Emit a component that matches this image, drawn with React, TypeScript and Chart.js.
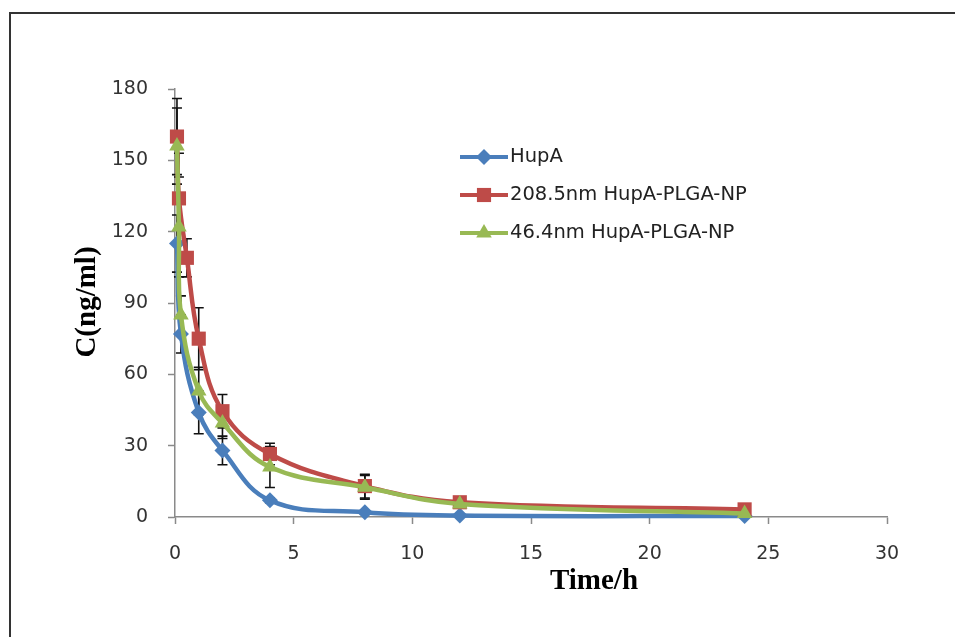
import React, { useEffect, useRef } from "react";
import { Chart, registerables } from "chart.js";

Chart.register(...registerables);

// ---- data ----
const xTickValues = [0, 5, 10, 15, 20, 25, 30];
const yTickValues = [0, 30, 60, 90, 120, 150, 180];
const xTitle = "Time/h";
const yTitle = "C(ng/ml)";

const seriesLabels = ["HupA", "208.5nm HupA-PLGA-NP", "46.4nm HupA-PLGA-NP"];

const hupaTime = [0.083, 0.25, 1, 2, 4, 8, 12, 24];
const hupaConc = [115, 77, 44, 28, 7, 2, 0.6, 0.4];
const hupaSD = [12, 8, 9, 6, 1, 0.5, 0.3, 0.2];

const np208Time = [0.083, 0.167, 0.5, 1, 2, 4, 8, 12, 24];
const np208Conc = [160, 134, 109, 75, 44.5, 26.5, 13, 6.2, 3.2];
const np208SD = [16, 19, 8, 13, 7, 4.5, 5, 1, 0.5];

const np46Time = [0.083, 0.167, 0.25, 1, 2, 4, 8, 12, 24];
const np46Conc = [156, 122, 85, 53, 39.5, 21, 12.5, 5.5, 1.5];
const np46SD = [16, 21, 8, 10, 6.5, 8.6, 5, 1, 0.5];

const colors = ["#4A7EBB", "#BE4B48", "#98B954"];
const pointStyles = ["rectRot", "rect", "triangle"];
const pointRadii = [8, 10, 9];

const sdLists = [hupaSD, np208SD, np46SD];

function toPoints(xs: number[], ys: number[]) {
  return xs.map((x, i) => ({ x, y: ys[i] }));
}

function drawMarker(ctx: CanvasRenderingContext2D, style: string, x: number, y: number, r: number) {
  ctx.beginPath();
  if (style === "rectRot") {
    ctx.moveTo(x, y - r);
    ctx.lineTo(x + r, y);
    ctx.lineTo(x, y + r);
    ctx.lineTo(x - r, y);
  } else if (style === "rect") {
    const s = r * Math.SQRT1_2;
    ctx.rect(x - s, y - s, 2 * s, 2 * s);
  } else {
    const a = (2 * Math.PI) / 3;
    ctx.moveTo(x, y - r);
    ctx.lineTo(x + Math.sin(a) * r, y - Math.cos(a) * r);
    ctx.lineTo(x + Math.sin(2 * a) * r, y - Math.cos(2 * a) * r);
  }
  ctx.closePath();
  ctx.fill();
}

const errorBarPlugin = {
  id: "errorBars",
  beforeDatasetsDraw(chart: any) {
    const { ctx, scales } = chart;
    const xs = scales.x;
    const ys = scales.y;
    ctx.save();
    ctx.strokeStyle = "#111";
    ctx.lineWidth = 1.6;
    chart.data.datasets.forEach((ds: any, i: number) => {
      const sd = sdLists[i];
      ds.data.forEach((p: any, j: number) => {
        const e = sd[j];
        if (!e) return;
        const px = xs.getPixelForValue(p.x);
        const top = ys.getPixelForValue(p.y + e);
        const bot = ys.getPixelForValue(Math.max(0, p.y - e));
        ctx.beginPath();
        ctx.moveTo(px, top);
        ctx.lineTo(px, bot);
        ctx.moveTo(px - 5, top);
        ctx.lineTo(px + 5, top);
        ctx.moveTo(px - 5, bot);
        ctx.lineTo(px + 5, bot);
        ctx.stroke();
      });
    });
    ctx.restore();
  },
};

const overlayPlugin = {
  id: "overlay",
  afterDraw(chart: any) {
    const { ctx } = chart;
    ctx.save();
    // axis titles
    ctx.fillStyle = "#000";
    ctx.font = "bold 29px 'Liberation Serif', 'Times New Roman', serif";
    ctx.textAlign = "center";
    ctx.textBaseline = "middle";
    ctx.fillText(xTitle, 594, 582);
    ctx.translate(88, 302);
    ctx.rotate(-Math.PI / 2);
    ctx.fillText(yTitle, 0, 0);
    ctx.restore();

    // legend
    ctx.save();
    const legendYs = [157, 195, 233];
    seriesLabels.forEach((label, i) => {
      const y = legendYs[i];
      ctx.strokeStyle = colors[i];
      ctx.lineWidth = 4;
      ctx.beginPath();
      ctx.moveTo(460, y);
      ctx.lineTo(508, y);
      ctx.stroke();
      ctx.fillStyle = colors[i];
      drawMarker(ctx, pointStyles[i], 484, y, pointRadii[i]);
      ctx.fillStyle = "#222";
      ctx.font = "19.5px 'DejaVu Sans', Verdana, sans-serif";
      ctx.textAlign = "left";
      ctx.textBaseline = "middle";
      ctx.fillText(label, 510, y);
    });
    ctx.restore();
  },
};

export default function App() {
  const canvasRef = useRef<HTMLCanvasElement | null>(null);

  useEffect(() => {
    const canvas = canvasRef.current;
    if (!canvas) return;
    const series = [
      { t: hupaTime, c: hupaConc },
      { t: np208Time, c: np208Conc },
      { t: np46Time, c: np46Conc },
    ];
    const chart = new Chart(canvas, {
      type: "line",
      data: {
        datasets: series.map((s, i) => ({
          label: seriesLabels[i],
          data: toPoints(s.t, s.c),
          borderColor: colors[i],
          backgroundColor: colors[i],
          pointBackgroundColor: colors[i],
          pointBorderColor: colors[i],
          pointStyle: pointStyles[i] as any,
          pointRadius: pointRadii[i],
          pointBorderWidth: 0,
          borderWidth: 4.5,
          tension: 0.4,
          clip: false as any,
          order: 2 - i,
        })),
      },
      options: {
        responsive: false,
        animation: false,
        devicePixelRatio: 1,
        layout: { padding: { top: 89, right: 68, left: 0, bottom: 0 } },
        plugins: {
          legend: { display: false },
          tooltip: { enabled: false },
        },
        scales: {
          x: {
            type: "linear",
            min: 0,
            max: 30,
            afterFit: (s: any) => {
              s.height = 120;
            },
            afterBuildTicks: (s: any) => {
              s.ticks = xTickValues.map((v) => ({ value: v }));
            },
            grid: {
              drawOnChartArea: false,
              drawTicks: true,
              tickLength: 7,
              tickColor: "#8a8a8a",
              tickWidth: 1.5,
            },
            border: { display: true, color: "#8a8a8a", width: 1.5 },
            ticks: {
              padding: 19,
              color: "#333",
              font: { family: "'DejaVu Sans', Verdana, sans-serif", size: 19 },
            },
          },
          y: {
            type: "linear",
            min: 0,
            max: 180,
            afterFit: (s: any) => {
              s.width = 175;
            },
            afterBuildTicks: (s: any) => {
              s.ticks = yTickValues.map((v) => ({ value: v }));
            },
            grid: {
              drawOnChartArea: false,
              drawTicks: true,
              tickLength: 7,
              tickColor: "#8a8a8a",
              tickWidth: 1.5,
            },
            border: { display: true, color: "#8a8a8a", width: 1.5 },
            ticks: {
              padding: 20,
              color: "#333",
              font: { family: "'DejaVu Sans', Verdana, sans-serif", size: 19 },
            },
          },
        },
      },
      plugins: [errorBarPlugin, overlayPlugin],
    });
    return () => chart.destroy();
  }, []);

  return (
    <div
      style={{
        position: "fixed",
        left: 0,
        top: 0,
        width: 955,
        height: 637,
        background: "#fff",
        overflow: "hidden",
      }}
    >
      <div
        style={{
          position: "absolute",
          left: 9,
          top: 12,
          width: 980,
          height: 660,
          borderLeft: "2px solid #333",
          borderTop: "2px solid #333",
          boxSizing: "border-box",
        }}
      />
      <canvas
        ref={canvasRef}
        width={955}
        height={637}
        style={{ position: "absolute", left: 0, top: 0, width: 955, height: 637 }}
      />
    </div>
  );
}
